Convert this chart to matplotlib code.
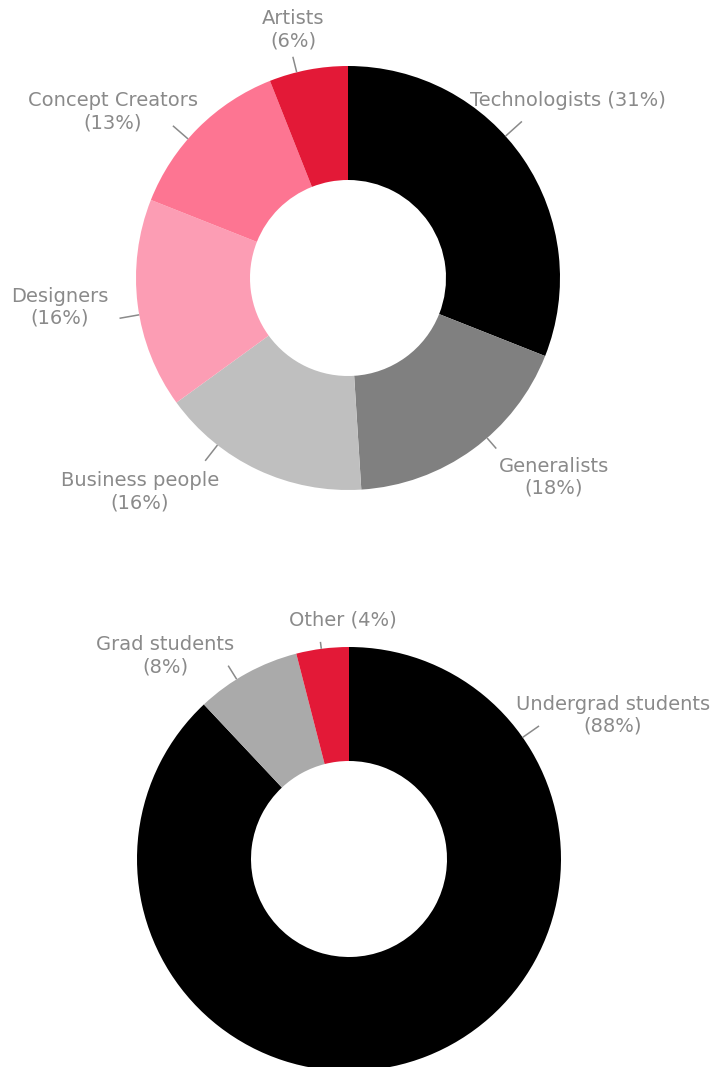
import numpy as np
import matplotlib.pyplot as plt

# top donut: roles
role_labels = ['Technologists', 'Generalists', 'Business people', 'Designers',
               'Concept Creators', 'Artists']
role_values = [31, 18, 16, 16, 13, 6]
role_colors = ['#000000', '#808080', '#bfbfbf', '#fc9db4', '#fd7592', '#e31937']

# bottom donut: student level
level_labels = ['Undergrad students', 'Grad students', 'Other']
level_values = [88, 8, 4]
level_colors = ['#000000', '#aaaaaa', '#e31937']

W, H = 716, 1067
TEXT_COLOR = '#8a8a8a'
R_OUT, R_IN = 212, 98


def label_text(name, value, one_line):
    sep = ' ' if one_line else '\n'
    return f'{name}{sep}({value}%)'


def donut(ax, values, colors, labels, center, label_xy, one_line, leader_ang, leader_r):
    ax.pie(values, colors=colors, startangle=90, counterclock=False,
           radius=R_OUT, center=center,
           wedgeprops=dict(width=R_OUT - R_IN, linewidth=0))
    cx, cy = center
    for name, val, (tx, ty), one, ang, (r0, r1) in zip(labels, values, label_xy,
                                                         one_line, leader_ang, leader_r):
        a = np.deg2rad(ang)
        ax.plot([cx + r0 * np.cos(a), cx + r1 * np.cos(a)],
                [cy + r0 * np.sin(a), cy + r1 * np.sin(a)],
                color=TEXT_COLOR, lw=1.1, solid_capstyle='butt')
        ax.text(tx, H - ty, label_text(name, val, one), ha='center', va='center',
                color=TEXT_COLOR, fontsize=14, linespacing=1.2)


fig = plt.figure(figsize=(W / 100, H / 100), dpi=100)
ax = fig.add_axes([0, 0, 1, 1])

donut(ax, role_values, role_colors, role_labels,
      center=(348, H - 278),
      label_xy=[(568, 101), (554, 477), (140, 492), (60, 307), (113, 112), (293, 30)],
      one_line=[True, False, False, False, False, False],
      leader_ang=[42, -49, 232, 190, 139, 104],
      leader_r=[(212, 234), (212, 226), (212, 232), (212, 232), (212, 232), (212, 228)])

donut(ax, level_values, level_colors, level_labels,
      center=(349, H - 859),
      label_xy=[(613, 715), (165, 656), (343, 620)],
      one_line=[False, False, True],
      leader_ang=[35, 122, 97.5],
      leader_r=[(212, 232), (212, 228), (212, 219)])

ax.set_xlim(0, W)
ax.set_ylim(0, H)
ax.set_aspect('equal')
ax.axis('off')

fig.savefig('out.png', dpi=100, facecolor='white')
